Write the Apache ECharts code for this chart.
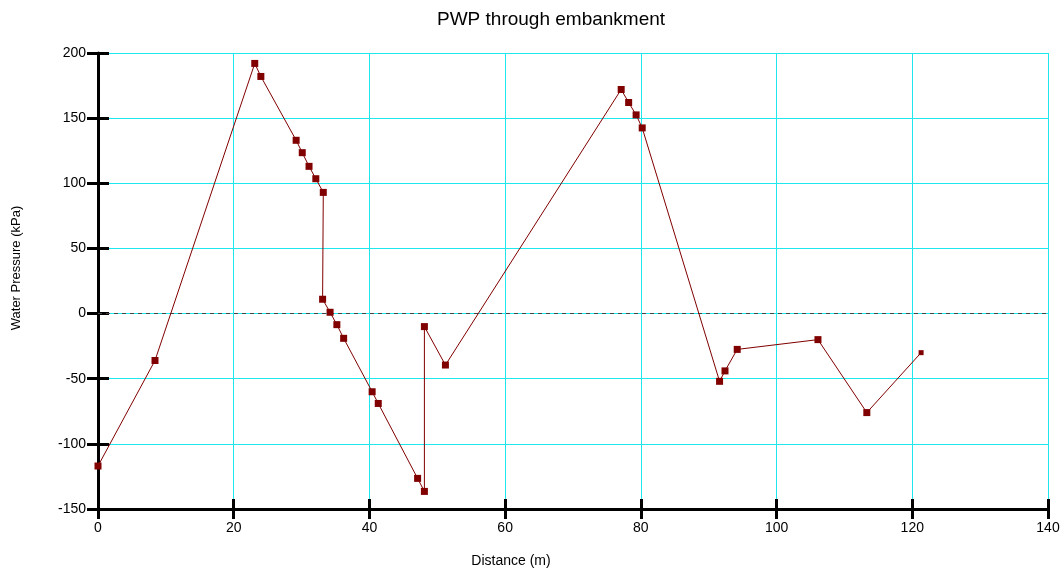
<!DOCTYPE html>
<html>
<head>
<meta charset="utf-8">
<script src="https://cdn.jsdelivr.net/npm/echarts@6/dist/echarts.min.js"></script>
<style>html,body{margin:0;padding:0;background:#fff;}#c{width:1061px;height:569px;}</style>
</head>
<body>
<div id="c"></div>
<script>
const distance = [0, 8.4, 23.1, 24.0, 29.2, 30.1, 31.1, 32.1, 33.2, 33.1, 34.2, 35.2, 36.2, 40.4, 41.3, 47.1, 48.1, 48.1, 51.2, 77.1, 78.2, 79.3, 80.2, 91.6, 92.4, 94.2, 106.1, 113.3, 121.3];
const pressure = [-117, -36, 192, 182, 133, 123.5, 113, 103.5, 93, 11, 1, -8.5, -19, -60, -69, -126.5, -136.5, -10, -39.5, 172, 162, 152.5, 142.5, -52, -44, -27.5, -20, -76, -30];
const xTicks = [0, 20, 40, 60, 80, 100, 120, 140];
const yTicks = [-150, -100, -50, 0, 50, 100, 150, 200];

const chart = echarts.init(document.getElementById('c'));
const font = 'Arial, "Liberation Sans", sans-serif';
const gridColor = '#1ee8ee';
const pts = distance.map((d, i) => [d, pressure[i]]);
const lastIdx = pts.length - 1;

const xBase = {
  type: 'value', min: xTicks[0], max: xTicks[xTicks.length - 1], interval: 20
};
const yBase = {
  type: 'value', min: yTicks[0], max: yTicks[yTicks.length - 1], interval: 50
};

chart.setOption({
  animation: false,
  backgroundColor: '#fff',
  title: {
    text: 'PWP through embankment', left: 432, top: 5,
    textStyle: { fontFamily: font, fontSize: 19, fontWeight: 'normal', color: '#000' }
  },
  grid: { left: 98, right: 13, top: 53, bottom: 60, containLabel: false, outerBoundsMode: 'none' },
  xAxis: [
    Object.assign({}, xBase, {
      position: 'bottom',
      name: 'Distance (m)', nameLocation: 'middle', nameGap: 45,
      nameTextStyle: { fontFamily: font, fontSize: 14, color: '#000', padding: [0, 124, 0, 0] },
      axisLine: { show: true, onZero: false, lineStyle: { color: '#000', width: 3 } },
      axisTick: { show: false },
      axisLabel: { fontFamily: font, fontSize: 14, color: '#000', margin: 12 },
      splitLine: { show: true, lineStyle: { color: gridColor, width: 1 } }
    }),
    Object.assign({}, xBase, {
      position: 'bottom', offset: -10,
      axisLine: { show: false, onZero: false },
      axisTick: { show: true, inside: false, length: 20, lineStyle: { color: '#000', width: 3 } },
      axisLabel: { show: false },
      splitLine: { show: false }
    })
  ],
  yAxis: [
    Object.assign({}, yBase, {
      position: 'left',
      name: 'Water Pressure (kPa)', nameLocation: 'middle', nameGap: 75,
      nameTextStyle: { fontFamily: font, fontSize: 13, color: '#000', padding: [0, 0, 0, 26] },
      axisLine: { show: true, onZero: false, lineStyle: { color: '#000', width: 3 } },
      axisTick: { show: false },
      axisLabel: { fontFamily: font, fontSize: 14, color: '#000', margin: 12 },
      splitLine: { show: true, lineStyle: { color: gridColor, width: 1 } }
    }),
    Object.assign({}, yBase, {
      position: 'left', offset: -11,
      axisLine: { show: false, onZero: false },
      axisTick: { show: true, inside: false, length: 22, lineStyle: { color: '#000', width: 3 } },
      axisLabel: { show: false },
      splitLine: { show: false }
    })
  ],
  series: [{
    type: 'line',
    xAxisIndex: 0, yAxisIndex: 0,
    data: pts,
    z: 10,
    clip: false,
    symbol: 'rect',
    symbolSize: (v, p) => (p.dataIndex === lastIdx ? 5 : 7),
    showAllSymbol: true,
    itemStyle: { color: '#800000' },
    lineStyle: { color: '#800000', width: 1 },
    markLine: {
      silent: true, symbol: 'none', label: { show: false },
      lineStyle: { color: '#444', width: 1, type: [4, 4] },
      data: [{ yAxis: 0 }]
    }
  }]
});
</script>
</body>
</html>
